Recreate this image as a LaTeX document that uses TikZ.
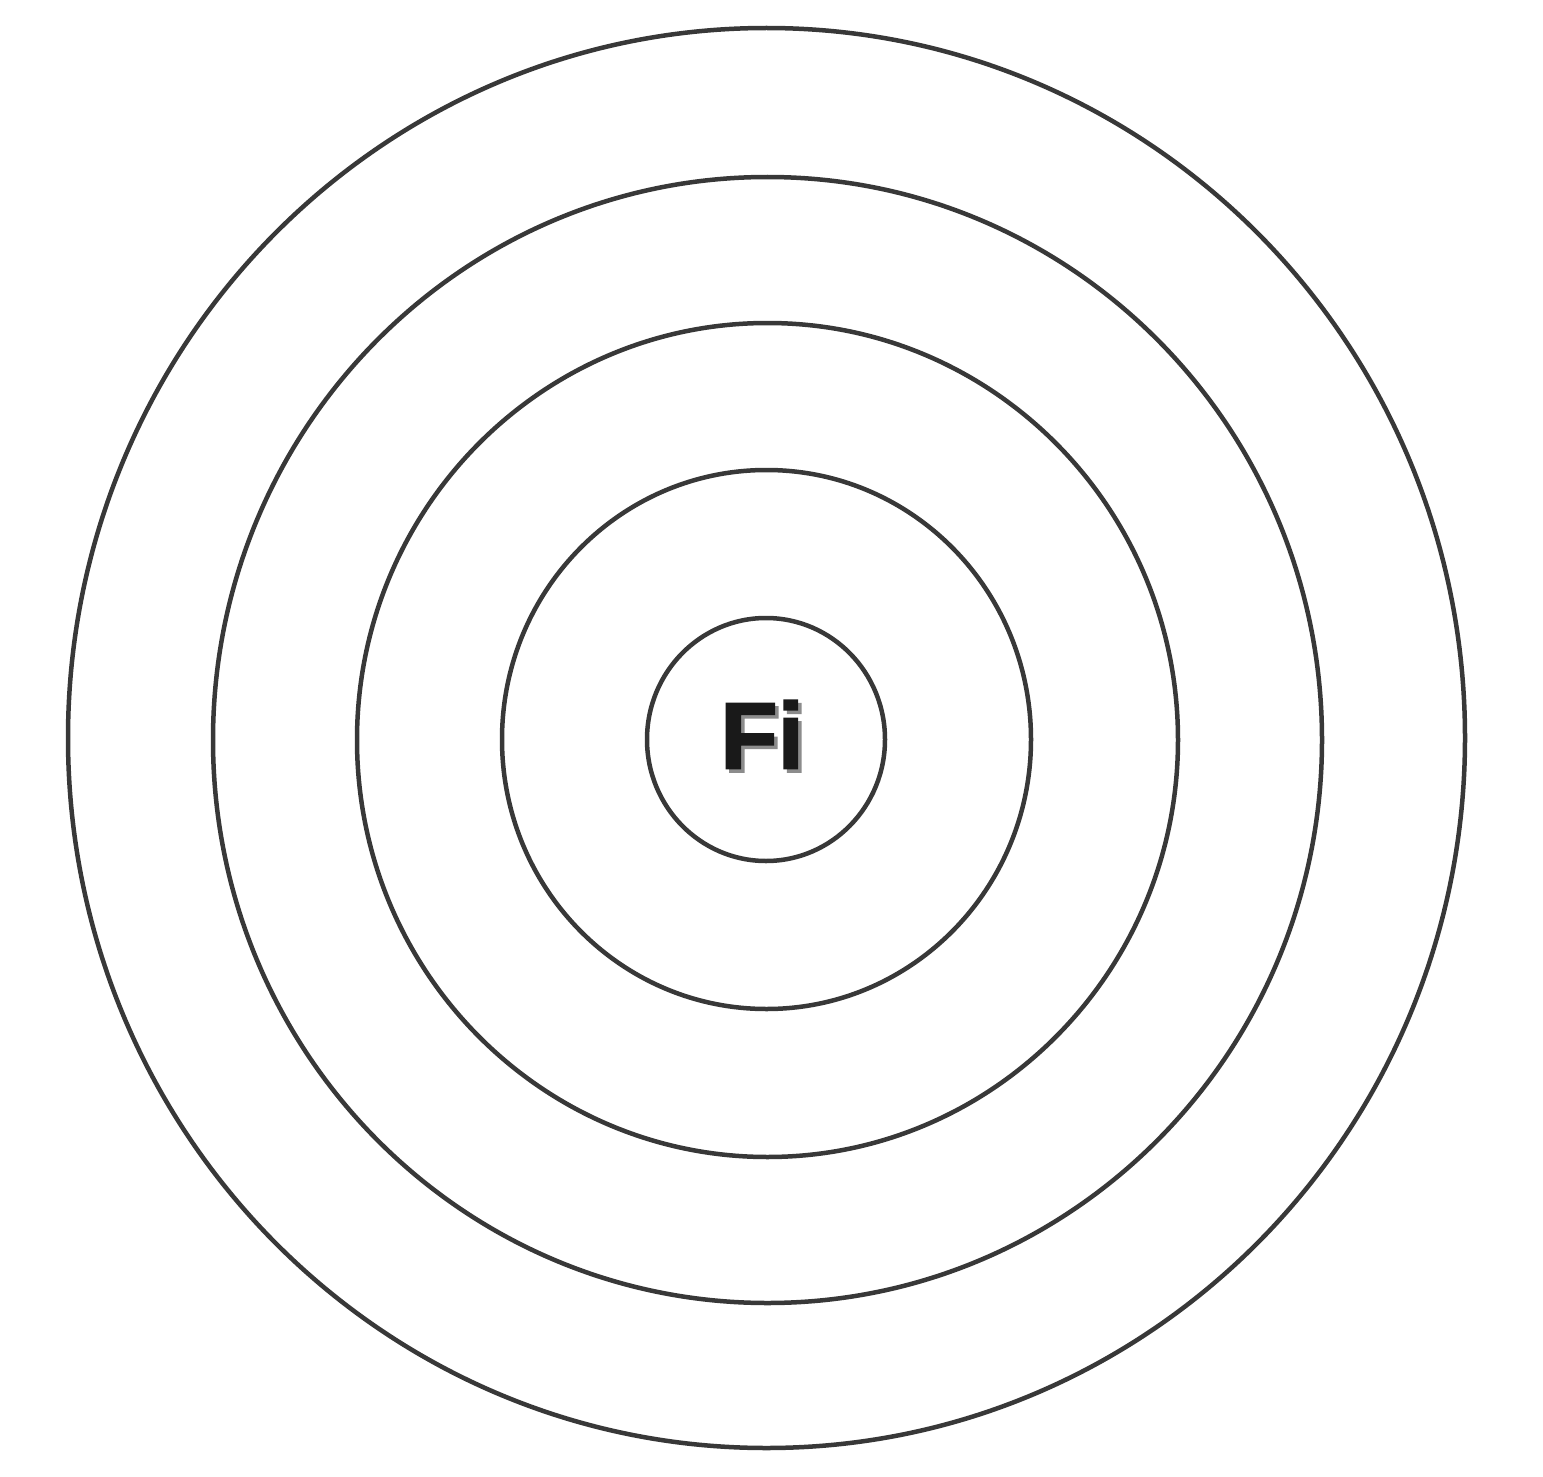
\documentclass[tikz,border=0pt]{standalone}
\usepackage{fontspec}
\setmainfont{Liberation Sans}
\newfontfamily\heavyfont{Liberation Sans Bold}[FakeBold=2]
\begin{document}
\begin{tikzpicture}[x=1pt,y=-1pt,
  ring/.style={draw=black!78,line width=4.5pt},
  label/.style={font=\fontsize{94}{94}\heavyfont,inner sep=0pt,anchor=center}]
\useasboundingbox[fill=white] (0,0) rectangle (1543,1477);
\draw[ring] (766.5,738) ellipse [x radius=698.5,y radius=710];
\draw[ring] (767.5,740) ellipse [x radius=554.5,y radius=563];
\draw[ring] (767.5,740) ellipse [x radius=410.5,y radius=417];
\draw[ring] (766.5,739.5) ellipse [x radius=264.5,y radius=269.5];
\draw[ring] (766,739.5) ellipse [x radius=119,y radius=121.5];
\node[label] (fi) at (762,736) {\rlap{\hspace{3.5pt}\raisebox{-3.5pt}{\color{black!45}Fi}}\color{black!90}Fi};
\end{tikzpicture}
\end{document}
